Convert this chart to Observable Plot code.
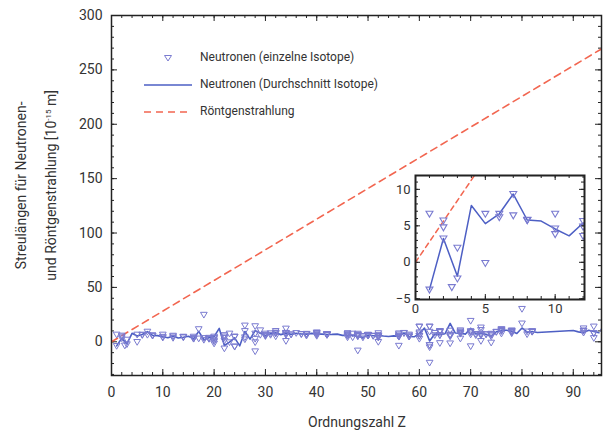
<!DOCTYPE html>
<html><head><meta charset="utf-8">
<script src="https://cdn.jsdelivr.net/npm/d3@7"></script>
<script src="https://cdn.jsdelivr.net/npm/@observablehq/plot@0.6"></script>
<style>
body{margin:0;background:#fff;font-family:Roboto,"DejaVu Sans",sans-serif;color:#333}
#wrap{position:relative;width:607px;height:434px;overflow:hidden;background:#fff}
#wrap svg{position:absolute;overflow:visible}
.lg{position:absolute;font-size:12px;color:#333;white-space:nowrap}
.lgsw{position:absolute}
#xlab{position:absolute;left:0;width:607px;top:414px;text-align:center;font-size:14px;color:#333;padding-left:107px;box-sizing:border-box}
#ylab{position:absolute;font-size:14px;color:#333;text-align:center;line-height:28px;white-space:nowrap;width:300px;left:-114px;top:156px;transform:rotate(-90deg)}
#ylab sup{font-size:8px}
</style></head><body><div id="wrap"></div>
<script>
// ---- data ----
// average scattering length per element (neutrons)
const meanZ = [1,2,3,4,5,6,7,8,9,10,11,12,13,14,15,16,17,18,19,20,21,22,23,24,25,26,27,28,29,30,31,32,33,34,35,36,37,38,39,40,41,42,43,44,45,46,47,48,49,50,51,52,53,54,55,56,57,58,59,60,61,62,63,64,65,66,67,68,69,70,71,72,73,74,75,76,77,78,79,80,81,82,83,90,91,92,93,95];
const meanB = [-3.74,3.26,-1.90,7.79,5.30,6.65,9.36,5.80,5.65,4.57,3.63,5.38,3.45,4.15,5.13,2.85,9.58,1.91,3.67,4.70,12.29,-3.44,-0.38,3.64,-3.73,9.45,2.49,10.3,7.72,5.68,7.29,8.19,6.58,7.97,6.80,7.81,7.09,7.02,7.75,7.16,7.05,6.72,6.8,7.03,5.88,5.91,5.92,4.87,4.07,6.23,5.57,5.80,5.28,4.92,5.42,5.07,8.24,4.84,4.58,7.69,12.6,0.80,7.22,6.5,7.38,16.9,8.01,7.79,7.07,12.43,7.21,7.7,6.91,4.86,9.2,10.7,10.6,9.60,7.63,12.69,8.78,9.41,8.53,10.31,9.1,8.42,10.55,8.3];
// individual isotopes (neutrons)
const isoZ = [1,1,2,2,2,2.6,3,3,5,5,6,6,7,7,8,8,8,10,10,10,12,12,12,14,14,14,16,16,16,16,17,17,18,18,18,19,19,19,20,20,20,20,20,20,22,22,22,22,22,23,23,24,24,24,24,26,26,26,26,28,28,28,28,28,29,29,30,30,30,30,30,31,31,32,32,32,32,32,34,34,34,34,34,34,35,35,36,37,37,38,38,38,38,40,40,40,40,40,42,42,42,42,42,42,42,46,46,46,46,46,46,47,47,48,48,48,48,48,48,48,48,49,49,50,50,50,50,50,50,50,50,50,50,51,51,52,52,52,52,52,52,52,52,56,56,56,56,56,56,56,57,57,58,58,58,58,60,60,60,60,60,60,60,62,62,62,62,62,62,62,63,63,64,64,64,64,64,64,64,66,66,66,66,66,66,66,68,68,68,68,68,68,70,70,70,70,70,70,70,71,71,72,72,72,72,72,72,73,73,74,74,74,74,74,75,75,76,76,76,76,76,76,76,78,78,78,78,78,78,80,80,81,81,82,82,82,82,92,92,92,92,94,94,94,94,96,96,96];
const isoB = [6.67,-3.74,5.74,4.79,3.26,-3.4,2.00,-2.22,-0.1,6.65,6.65,6.19,9.37,6.44,5.80,5.78,5.84,4.63,6.66,3.87,5.66,3.62,4.89,4.11,4.70,4.58,2.80,4.74,3.48,3.0,11.65,3.08,24.9,3.5,1.83,3.74,3.1,2.69,4.80,3.36,-1.56,1.42,3.6,0.39,4.93,3.63,-6.08,1.04,6.18,7.6,-0.40,-4.50,4.92,-4.20,4.55,4.2,9.94,2.3,15,14.4,2.8,7.6,-8.7,-0.37,6.43,10.61,5.22,5.97,7.56,6.03,6.0,7.88,6.40,10.0,8.51,5.02,7.58,8.2,0.8,12.2,8.25,8.24,7.48,6.34,6.80,6.79,8.1,7.03,7.23,7.0,5.67,7.40,7.15,6.4,8.7,7.4,8.2,5.5,6.91,6.80,6.91,6.20,7.24,6.58,6.73,7.7,7.7,5.5,6.4,4.1,7.7,7.56,4.17,5.0,5.4,5.9,6.5,6.4,-8.0,7.5,6.3,5.39,4.01,6.0,6.2,6.0,5.93,6.48,6.07,6.12,6.49,5.74,5.97,5.71,5.38,5.3,3.8,-0.05,7.96,5.02,5.56,5.89,6.02,-3.6,7.8,5.7,4.67,4.91,6.83,4.84,8.0,8.24,5.80,6.70,4.84,4.75,7.7,14.0,2.8,14.0,8.7,5.7,5.3,-3.0,14.0,-3.0,-19.2,14.0,-5.0,9.3,6.13,8.22,10,10,6.0,6.3,-1.14,9.0,9.15,6.1,6.0,6.7,10.3,-1.4,5.0,49.4,8.8,8.2,10.6,3.0,7.4,9.6,-4.07,6.77,9.66,9.43,9.56,19.3,8.72,7.24,6.1,10.9,6.61,0.8,5.9,7.46,13.2,7.0,6.91,5.0,6.97,6.53,7.48,-0.72,9.0,9.3,10.0,11.6,10.0,7.6,10.7,11.0,11.5,9.0,9.9,10.55,8.83,9.89,7.8,30.3,16.9,6.99,9.52,9.90,9.22,9.28,9.50,10.1,12.4,10.47,8.40,14.1,7.7,3.5,8.1,9.5,9.3,7.7];
// X-ray scattering length (end points of the straight line)
const xrayZ = [0, 96];
const xrayB = [0, 270.7];
// tick labels
const xTickLabels = [0,10,20,30,40,50,60,70,80,90];
const yTickLabels = [0,50,100,150,200,250,300];
const insetXTicks = [0,5,10];
const insetYTicks = [-5,0,5,10];
const legendLabels = ["Neutronen (einzelne Isotope)","Neutronen (Durchschnitt Isotope)","Röntgenstrahlung"];

// ---- build tables ----
const means = meanZ.map((z,i)=>({z, b: meanB[i]}));
const isos = isoZ.map((z,i)=>({z, b: isoB[i]}));
const xray = xrayZ.map((z,i)=>({z, b: xrayB[i]}));

const cLine = "#4d5fc4", cDot = "#7a7bd0", cX = "#f26650", cFrame = "#222";
const triDown = {draw(ctx, size){ const r = Math.sqrt(size/Math.PI);
  ctx.moveTo(-1.2*r,-0.85*r); ctx.lineTo(1.2*r,-0.85*r); ctx.lineTo(0,1.2*r); ctx.closePath(); }};
const font = "Roboto, 'DejaVu Sans', sans-serif";

function tickRules(majX, minX, majY, minY, pw, ph, lmaj, lmin){
  const o = {stroke: cFrame, strokeWidth: 1};
  return [
    Plot.ruleX(minX, {x: d=>d, insetTop: ph-lmin, ...o}),
    Plot.ruleX(minX, {x: d=>d, insetBottom: ph-lmin, ...o}),
    Plot.ruleX(majX, {x: d=>d, insetTop: ph-lmaj, ...o}),
    Plot.ruleX(majX, {x: d=>d, insetBottom: ph-lmaj, ...o}),
    Plot.ruleY(minY, {y: d=>d, insetRight: pw-lmin, ...o}),
    Plot.ruleY(minY, {y: d=>d, insetLeft: pw-lmin, ...o}),
    Plot.ruleY(majY, {y: d=>d, insetRight: pw-lmaj, ...o}),
    Plot.ruleY(majY, {y: d=>d, insetLeft: pw-lmaj, ...o})
  ];
}

const wrap = document.getElementById("wrap");

// ---- main chart ----
const W=607, H=434, mL=111, mR=6, mT=15, mB=59;
const pw = W-mL-mR, ph = H-mT-mB;
const main = Plot.plot({
  width: W, height: H, marginLeft: mL, marginRight: mR, marginTop: mT, marginBottom: mB,
  style: {fontFamily: font, fontSize: "14px", color: "#333", background: "transparent"},
  x: {domain: [0, 95.5]},
  y: {domain: [-31, 300]},
  marks: [
    ...tickRules(d3.range(0,96,10), d3.range(0,96,2), d3.range(0,301,50), d3.range(-30,301,10), pw, ph, 6, 3),
    Plot.axisX({ticks: xTickLabels, tickSize: 0, tickPadding: 12, label: null, fill: "#333"}),
    Plot.axisY({ticks: yTickLabels, tickSize: 0, tickPadding: 9, label: null, fill: "#333"}),
    Plot.line(xray, {x: "z", y: "b", stroke: cX, strokeWidth: 1.6, strokeDasharray: "7,5", clip: true}),
    Plot.line(means, {x: "z", y: "b", stroke: cLine, strokeWidth: 1.6, clip: true}),
    Plot.dot(isos, {x: "z", y: "b", symbol: triDown, r: 2.8, stroke: cDot, fill: "none", strokeWidth: 1, clip: true}),
    Plot.frame({stroke: cFrame, strokeWidth: 1.5})
  ]
});
main.style.left = "0px"; main.style.top = "0px";
wrap.appendChild(main);

// ---- inset ----
const IW=220, IH=160, iL=45, iR=6, iT=10, iB=26;
const ipw = IW-iL-iR, iph = IH-iT-iB;
const inset = Plot.plot({
  width: IW, height: IH, marginLeft: iL, marginRight: iR, marginTop: iT, marginBottom: iB,
  style: {fontFamily: font, fontSize: "13px", color: "#333", background: "transparent"},
  x: {domain: [0, 12.1]},
  y: {domain: [-5.1, 11.9]},
  marks: [
    Plot.frame({fill: "white", stroke: "none"}),
    ...tickRules(insetXTicks, d3.range(0,13,1), insetYTicks, d3.range(-5,12,1), ipw, iph, 5, 3),
    Plot.axisX({ticks: insetXTicks, tickSize: 0, tickPadding: 4, label: null, fill: "#333"}),
    Plot.axisY({ticks: insetYTicks, tickSize: 0, tickPadding: 5, label: null, fill: "#333"}),
    Plot.line(xray, {x: "z", y: "b", stroke: cX, strokeWidth: 1.5, strokeDasharray: "5,4", clip: true}),
    Plot.line(means, {x: "z", y: "b", stroke: cLine, strokeWidth: 1.5, clip: true}),
    Plot.dot(isos, {x: "z", y: "b", symbol: triDown, r: 2.9, stroke: cDot, fill: "none", strokeWidth: 1.1, clip: true}),
    Plot.frame({stroke: cFrame, strokeWidth: 2})
  ]
});
inset.style.left = "370px"; inset.style.top = "165px";
wrap.appendChild(inset);

// ---- legend ----
const rows = [58, 85, 112];
const sw = [
  `<svg width="52" height="12" viewBox="0 0 52 12"><path d="M22.5,3.5 L29.5,3.5 L26,9 Z" fill="none" stroke="${cDot}" stroke-width="1"/></svg>`,
  `<svg width="52" height="12" viewBox="0 0 52 12"><line x1="2" y1="6" x2="50" y2="6" stroke="${cLine}" stroke-width="1.6"/></svg>`,
  `<svg width="52" height="12" viewBox="0 0 52 12"><line x1="2" y1="6" x2="50" y2="6" stroke="${cX}" stroke-width="1.6" stroke-dasharray="7,5"/></svg>`
];
legendLabels.forEach((t,i)=>{
  const s = document.createElement("div"); s.className="lgsw"; s.style.left="142px"; s.style.top=(rows[i]-6)+"px"; s.innerHTML=sw[i]; wrap.appendChild(s);
  const d = document.createElement("div"); d.className="lg"; d.style.left="200px"; d.style.top=(rows[i]-8)+"px"; d.textContent=t; wrap.appendChild(d);
});

// ---- axis titles ----
const xl = document.createElement("div"); xl.id="xlab"; xl.textContent="Ordnungszahl Z"; wrap.appendChild(xl);
const yl = document.createElement("div"); yl.id="ylab";
yl.innerHTML = "Streulängen für Neutronen-<br>und Röntgenstrahlung [10<sup>-15</sup> m]";
wrap.appendChild(yl);
</script>
</body></html>
